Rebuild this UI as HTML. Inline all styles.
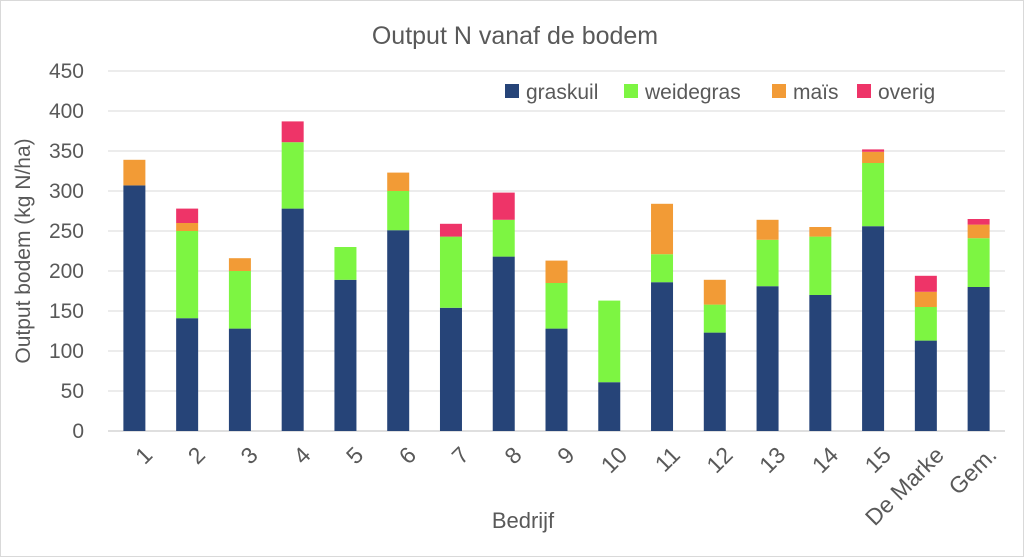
<!DOCTYPE html>
<html><head><meta charset="utf-8"><style>
body{margin:0;background:#fff}
svg{display:block;font-family:"Liberation Sans",sans-serif}
</style></head><body>
<svg id="c" width="1024" height="557" viewBox="0 0 1024 557">
<rect x="0.5" y="0.5" width="1023" height="556" fill="#fff" stroke="#d9d9d9"/>
<text x="515" y="44" text-anchor="middle" font-size="25" fill="#595959">Output N vanaf de bodem</text>
<text transform="translate(30,251) rotate(-90)" text-anchor="middle" font-size="21" fill="#595959">Output bodem (kg N/ha)</text>
<text x="523" y="528" text-anchor="middle" font-size="22" fill="#595959">Bedrijf</text>
<g id="grid"></g><g id="bars"></g><g id="xl"></g><g id="legend"></g>
</svg>
<script>
const categories=["1","2","3","4","5","6","7","8","9","10","11","12","13","14","15","De Marke","Gem."];
const graskuil=[307,141,128,278,189,251,154,218,128,61,186,123,181,170,256,113,180];
const weidegras=[0,109,72,83,41,49,89,46,57,102,35,35,58,73,79,42,61];
const mais=[32,10,16,0,0,23,0,0,28,0,63,31,25,12,14,19,17];
const overig=[0,18,0,26,0,0,16,34,0,0,0,0,0,0,3,20,7];
const yTicks=[0,50,100,150,200,250,300,350,400,450];
const seriesNames=["graskuil","weidegras","maïs","overig"];
const colors=["#264478","#7DF542","#F29B36","#EE3468"];
const NS="http://www.w3.org/2000/svg";
const x0=108,x1=1005,y0=431,yMax=450,yTop=71;
const y=v=>y0-(v/yMax)*(y0-yTop);
const band=(x1-x0)/categories.length;
const xc=i=>x0+band*(i+0.5);
function mk(t,a,p){const e=document.createElementNS(NS,t);for(const k in a)e.setAttribute(k,a[k]);p.appendChild(e);return e;}
const grid=document.getElementById('grid');
yTicks.forEach(v=>{
 const l=mk('line',{x1:x0,x2:x1,y1:y(v),y2:y(v),stroke:v===0?'#bfbfbf':'#d9d9d9','stroke-width':1},grid);
 
 
 const t=mk('text',{x:x0-24,y:y(v)+7,'text-anchor':'end','font-size':21,fill:'#595959'},grid);
 t.textContent=v;
 
 
});
const series=[graskuil,weidegras,mais,overig];
const bars=document.getElementById('bars');
categories.forEach((c,i)=>{
 let acc=0;
 series.forEach((s,k)=>{
  const v=s[i]; if(!v){return;}
  const r=mk('rect',{x:xc(i)-11,width:22,y:y(acc+v),height:y(acc)-y(acc+v),fill:colors[k]},bars);
  
  
  acc+=v;
 });
 const t=mk('text',{transform:`translate(${xc(i)+8},${y0+14}) rotate(-45)`,'text-anchor':'end','font-size':23,fill:'#595959',dy:'0.7em'},document.getElementById('xl'));
 t.textContent=c;
 
 
});
const lg=document.getElementById('legend');
const lx=[505,624,772,857];
seriesNames.forEach((n,k)=>{
 const r=mk('rect',{x:lx[k],y:84,width:14,height:14,fill:colors[k]},lg);
 
 
 const t=mk('text',{x:lx[k]+21,y:99,'font-size':21,fill:'#595959'},lg);
 t.textContent=n;
 
 
});
</script>
</body></html>
